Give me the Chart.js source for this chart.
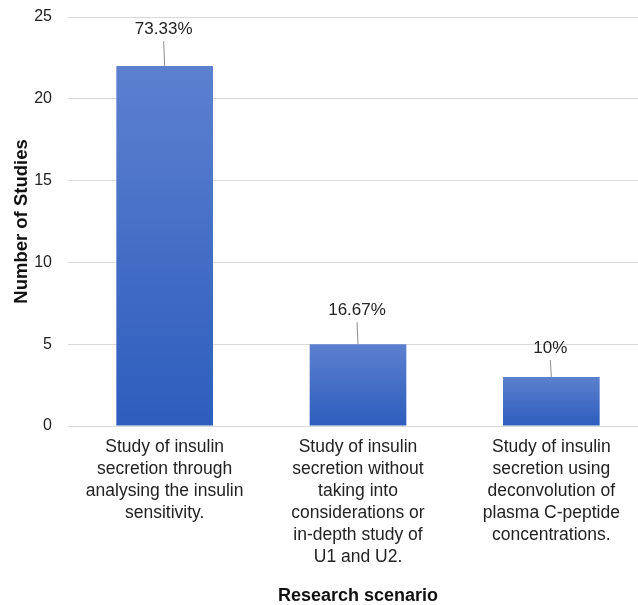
<!DOCTYPE html>
<html>
<head>
<meta charset="utf-8">
<script src="https://cdn.jsdelivr.net/npm/chart.js@4"></script>
<style>
  html, body { margin: 0; padding: 0; background: #fff; overflow: hidden; }
  #wrap { width: 648px; height: 605px; position: relative; }
</style>
</head>
<body>
<div id="wrap"><canvas id="myChart"></canvas></div>
<script>
// chart data
var categories = [
  ['Study of insulin', 'secretion through', 'analysing the insulin', 'sensitivity.'],
  ['Study of insulin', 'secretion without', 'taking into', 'considerations or', 'in-depth study of', 'U1 and U2.'],
  ['Study of insulin', 'secretion using', 'deconvolution of', 'plasma C-peptide', 'concentrations.']
];
var studies = [22, 5, 3];
var shareLabels = ['73.33%', '16.67%', '10%'];
var yTicks = [0, 5, 10, 15, 20, 25];

var fontFam = '"Liberation Sans", Arial, sans-serif';

// percentage labels with small leader line above each bar
var leaderLabels = {
  id: 'leaderLabels',
  afterDatasetsDraw: function(chart, args, opts) {
    var ctx = chart.ctx;
    var meta = chart.getDatasetMeta(0);
    ctx.save();
    meta.data.forEach(function(bar, i) {
      var lift = opts.lift[i];
      var textY = bar.y - lift;
      ctx.strokeStyle = '#8c8c8c';
      ctx.lineWidth = 1;
      ctx.beginPath();
      ctx.moveTo(bar.x - 1, textY + 12);
      ctx.lineTo(bar.x, bar.y);
      ctx.stroke();
      ctx.fillStyle = '#222';
      ctx.font = '17px ' + fontFam;
      ctx.textAlign = 'center';
      ctx.textBaseline = 'middle';
      ctx.fillText(shareLabels[i], bar.x - 1, textY);
    });
    ctx.restore();
  }
};

function barGradient(context) {
  var chart = context.chart;
  var y = chart.scales.y;
  if (!chart.chartArea || !y) return '#4a72c9';
  var v = context.parsed ? context.parsed.y : studies[context.dataIndex];
  var top = y.getPixelForValue(v);
  var bottom = y.getPixelForValue(0);
  if (!isFinite(top) || !isFinite(bottom) || top === bottom) return '#4a72c9';
  var g = chart.ctx.createLinearGradient(0, top, 0, bottom);
  g.addColorStop(0, '#5c80cf');
  g.addColorStop(1, '#2d5dbd');
  return g;
}

new Chart(document.getElementById('myChart'), {
  type: 'bar',
  data: {
    labels: categories,
    datasets: [{
      label: 'Number of Studies',
      data: studies,
      backgroundColor: barGradient,
      borderWidth: 0,
      barPercentage: 0.5,
      categoryPercentage: 1
    }]
  },
  options: {
    responsive: true,
    maintainAspectRatio: false,
    animation: false,
    layout: { padding: { top: 17, right: 0, left: 0, bottom: 0 } },
    plugins: {
      legend: { display: false },
      tooltip: { enabled: false },
      leaderLabels: { lift: [37, 34, 29] }
    },
    scales: {
      x: {
        grid: { display: false, drawTicks: false },
        border: { display: true, color: '#d9d9d9', width: 1 },
        ticks: {
          color: '#222',
          font: { family: fontFam, size: 17.5, lineHeight: '22px' },
          padding: 10,
          maxRotation: 0,
          autoSkip: false
        },
        title: {
          display: true,
          text: 'Research scenario',
          color: '#111',
          font: { family: fontFam, size: 18, weight: 'bold', lineHeight: 1 },
          padding: { top: 0, bottom: 0 }
        },
        afterFit: function(s) { s.height = 179; s.paddingLeft = 0; s.paddingRight = 0; }
      },
      y: {
        min: 0,
        max: 25,
        afterBuildTicks: function(s) { s.ticks = yTicks.map(function(v) { return { value: v }; }); },
        grid: { color: '#d9d9d9', lineWidth: 1, drawTicks: false },
        border: { display: false },
        ticks: {
          color: '#222',
          font: { family: fontFam, size: 16 },
          padding: 16
        },
        title: {
          display: true,
          text: 'Number of Studies',
          color: '#111',
          font: { family: fontFam, size: 18.5, weight: 'bold', lineHeight: 1 },
          padding: { top: 13, bottom: 0 }
        },
        afterFit: function(s) { s.width = 68; s.paddingTop = 0; s.paddingBottom = 0; }
      }
    }
  },
  plugins: [leaderLabels]
});
</script>
</body>
</html>
